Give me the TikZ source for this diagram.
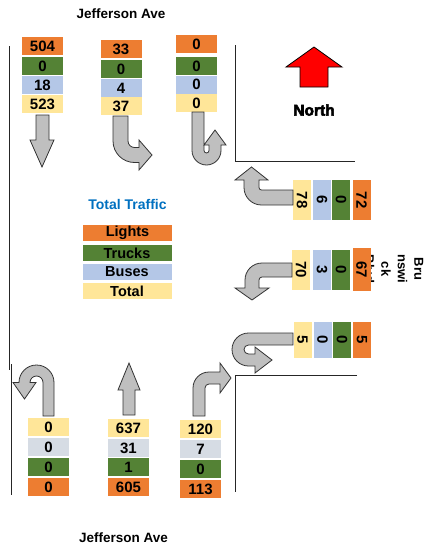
\documentclass[tikz,border=0pt]{standalone}
\usepackage{fontspec}
\setmainfont{Liberation Sans}
\newfontfamily\blackfont{Liberation Sans}[FakeBold=3.5]
\definecolor{lightsorange}{HTML}{ED7D31}
\definecolor{truckgreen}{HTML}{548235}
\definecolor{busblue}{HTML}{B4C7E7}
\definecolor{busgray}{HTML}{D6DCE4}
\definecolor{totalyellow}{HTML}{FFE699}
\definecolor{titleblue}{HTML}{0070C0}
\definecolor{arrowgray}{HTML}{BFBFBF}
\definecolor{arrowline}{HTML}{333333}
\begin{document}
\begin{tikzpicture}[x=1pt, y=-1pt,
  countbox/.style={minimum width=41pt, minimum height=18pt, inner sep=0pt,
    font=\bfseries\fontsize{15}{15}\selectfont},
  lightsbox/.style={countbox, fill=lightsorange},
  trucksbox/.style={countbox, fill=truckgreen},
  busesbox/.style={countbox, fill=busblue},
  busesgray/.style={countbox, fill=busgray},
  totalbox/.style={countbox, fill=totalyellow},
  sidebox/.style={rotate=-90, minimum width=40pt, minimum height=18pt},
  legendbox/.style={minimum width=89pt, minimum height=16pt, inner sep=0pt,
    font=\bfseries\fontsize{14.5}{14.5}\selectfont},
  turnarrow/.style={fill=arrowgray, draw=arrowline, line width=0.8pt},
  road/.style={black!85, line width=1pt},
  streetname/.style={font=\bfseries\fontsize{13.5}{13.5}\selectfont}]
  \useasboundingbox (0,0) rectangle (426,549);
  % Street names
  \node[streetname] (jefftop) at (121,14) {Jefferson Ave};
  \node[streetname] (jeffbot) at (123.5,538) {Jefferson Ave};
  \node[font=\bfseries\fontsize{13}{16.5}\selectfont, rotate=-90, align=center] (brunswick) at (394,269) {Bru\\nswi\\ck\\Blvd};
  % Road edges
  \draw[road] (9,46) -- (9,370);
  \draw[road] (11,364) -- (11,495);
  \draw[road] (235,45) -- (235,161) -- (355,161);
  \draw[road] (357,375) -- (235,375) -- (235,492);
  % North
  \draw[fill=red, draw=black, line width=0.8pt] (300,87) -- (300,67) -- (286,67) -- (314,47) -- (342,67) -- (328,67) -- (328,87) -- cycle;
  \node[font=\blackfont\bfseries\fontsize{15.5}{15.5}\selectfont] (north) at (314,110) {North};
  % Southbound counts (top)
  \node[lightsbox] (t1l) at (42.5,46) {504};
  \node[trucksbox] (t1k) at (42.5,66) {0};
  \node[busesbox] (t1b) at (42.5,85) {18};
  \node[totalbox] (t1t) at (42.5,104) {523};
  \node[lightsbox] (t2l) at (121,49) {33};
  \node[trucksbox] (t2k) at (121,69) {0};
  \node[busesbox] (t2b) at (121,88) {4};
  \node[totalbox] (t2t) at (121,106) {37};
  \node[lightsbox] (t3l) at (196.5,44) {0};
  \node[trucksbox] (t3k) at (196.5,66) {0};
  \node[busesbox] (t3b) at (196.5,84.5) {0};
  \node[totalbox] (t3t) at (196.5,103) {0};
  \draw[turnarrow] (36,115) -- (49,115) -- (49,140) -- (54,140) -- (42,167) -- (30,140) -- (36,140) -- cycle;
  \draw[turnarrow] (113,116) -- (113,141) arc (180:90:21.5) -- (139,162.5) -- (139,170) -- (152,155) -- (139,140) -- (139,147.5) -- (134.5,147.5) arc (90:180:6.5) -- (128,116) -- cycle;
  \draw[turnarrow] (192,112) -- (192,150.5) arc (180:0:14.5) -- (221,145) -- (226,145) -- (215,130) -- (204,145) -- (209,145) -- (209,150.5) arc (0:180:2.5) -- (204,112) -- cycle;
  % Westbound counts (right)
  \node[totalbox, sidebox] (r1t) at (302,200) {78};
  \node[busesbox, sidebox] (r1b) at (322,200) {6};
  \node[trucksbox, sidebox] (r1k) at (341,200) {0};
  \node[lightsbox, sidebox] (r1l) at (361.5,200) {72};
  \node[totalbox, sidebox] (r2t) at (301,269.5) {70};
  \node[busesbox, sidebox] (r2b) at (322,269.5) {3};
  \node[trucksbox, sidebox] (r2k) at (341,269.5) {0};
  \node[lightsbox, sidebox, minimum width=43pt] (r2l) at (361.5,269.5) {67};
  \node[totalbox, sidebox, minimum width=36pt] (r3t) at (302.5,340) {5};
  \node[busesbox, sidebox, minimum width=36pt] (r3b) at (322.5,340) {0};
  \node[trucksbox, sidebox, minimum width=36pt] (r3k) at (342,340) {0};
  \node[lightsbox, sidebox, minimum width=36pt] (r3l) at (362,340) {5};
  \draw[turnarrow] (293,190) -- (261.5,190) arc (90:180:2.5) -- (259,180) -- (268,180) -- (251.5,167) -- (235,180) -- (244,180) -- (244,187.5) arc (180:90:17.5) -- (293,205) -- cycle;
  \draw[turnarrow] (292,263) -- (262,263) arc (270:180:17) -- (245,288) -- (235,288) -- (252,300) -- (269,288) -- (259,288) -- (259,280) arc (180:270:3) -- (292,277) -- cycle;
  \draw[turnarrow] (293,333) -- (248.5,333) arc (270:90:16.5) -- (255,366) -- (255,373) -- (272,360) -- (255,347) -- (255,354) -- (248.5,354) arc (90:270:4.5) -- (293,345) -- cycle;
  % Legend
  \node[font=\bfseries\fontsize{14}{14}\selectfont, text=titleblue] (legendtitle) at (127.5,204) {Total Traffic};
  \node[legendbox, fill=lightsorange] (keylights) at (127.5,233) {Lights};
  \node[legendbox, fill=truckgreen] (keytrucks) at (127,253) {Trucks};
  \node[legendbox, fill=busblue] (keybuses) at (127,272) {Buses};
  \node[legendbox, fill=totalyellow] (keytotal) at (127,291) {Total};
  % Northbound counts (bottom)
  \node[totalbox] (b1t) at (48.5,427) {0};
  \node[busesgray] (b1b) at (48.5,447) {0};
  \node[trucksbox] (b1k) at (48.5,467) {0};
  \node[lightsbox] (b1l) at (48.5,487) {0};
  \node[totalbox] (b2t) at (128.5,428) {637};
  \node[busesgray] (b2b) at (128.5,448) {31};
  \node[trucksbox] (b2k) at (128.5,467) {1};
  \node[lightsbox] (b2l) at (128.5,487) {605};
  \node[totalbox] (b3t) at (200.5,429) {120};
  \node[busesgray] (b3b) at (200.5,449) {7};
  \node[trucksbox] (b3k) at (200.5,469) {0};
  \node[lightsbox] (b3l) at (200.5,489) {113};
  \draw[turnarrow] (54,416) -- (54,382.5) arc (0:-180:17.5) -- (13,382.5) -- (24.5,399) -- (36,382.5) -- (30,382.5) arc (180:360:6.5) -- (43,416) -- cycle;
  \draw[turnarrow] (123,415) -- (123,390) -- (118,390) -- (129,363) -- (140,390) -- (135,390) -- (135,415) -- cycle;
  \draw[turnarrow] (193,416) -- (193,388) arc (180:270:16) -- (220,372) -- (220,363) -- (231,378) -- (220,393) -- (220,384) -- (209,384) arc (270:180:4) -- (205,416) -- cycle;
\end{tikzpicture}
\end{document}
